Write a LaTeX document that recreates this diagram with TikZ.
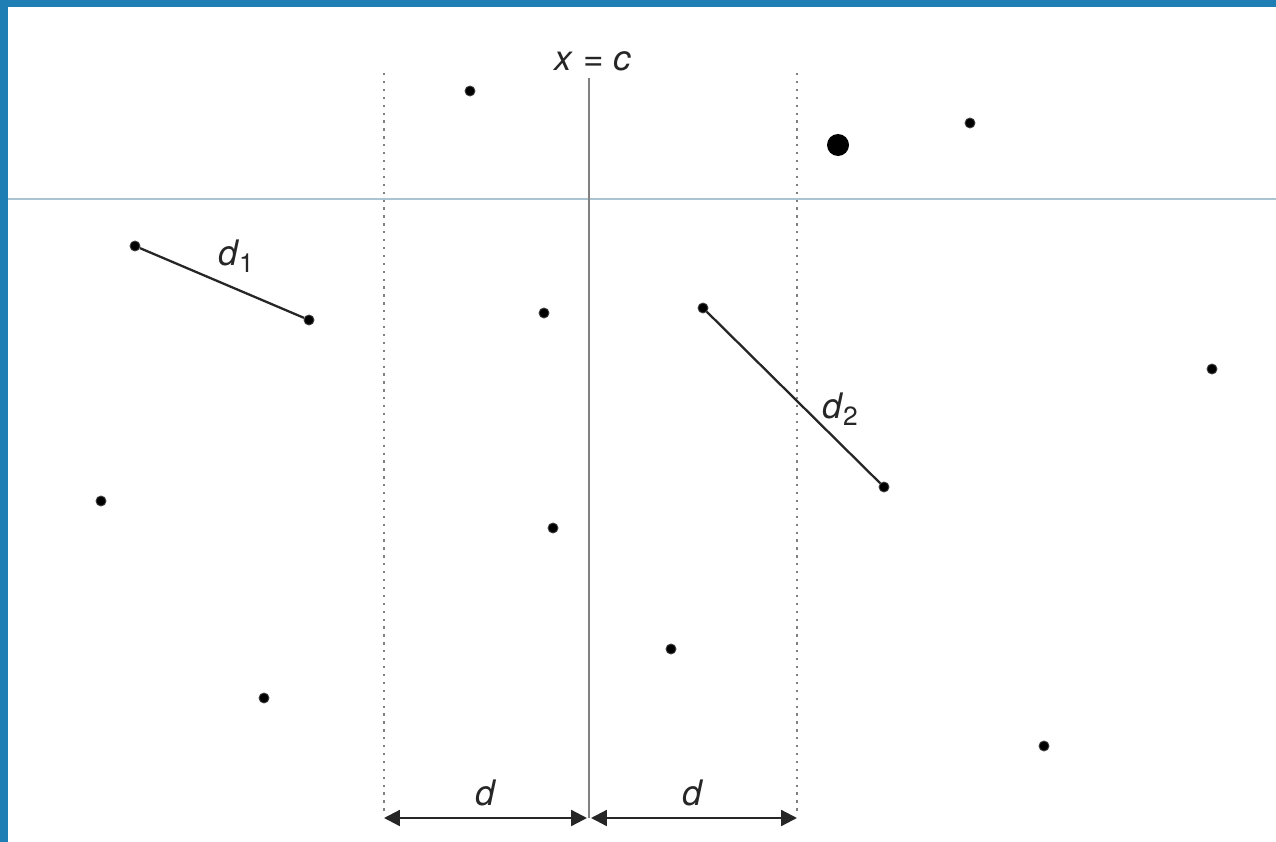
\documentclass[tikz,border=0pt]{standalone}
\usepackage{fontspec}
\setmainfont{TeX Gyre Heros}
\usetikzlibrary{arrows.meta}
\definecolor{frameblue}{RGB}{31,127,181}
\definecolor{rulecol}{RGB}{170,196,210}
\tikzset{
  pt/.style={circle, fill=black, draw=black!75, line width=0.5pt, inner sep=0pt, minimum size=10*0.02cm},
  bigpt/.style={circle, fill=black, inner sep=0pt, minimum size=22*0.02cm},
  seg/.style={line width=1.3pt, black!85},
  dotline/.style={line width=1.6pt, black!50, dash pattern=on 1.3pt off 3.2pt},
  midline/.style={line width=1.7pt, black!50},
  dim/.style={line width=1.3pt, black!85, {Triangle[length=9pt,width=9pt]}-{Triangle[length=9pt,width=9pt]}},
  lab/.style={font=\fontsize{20}{24}\selectfont, inner sep=1pt, text=black!85}
}
\begin{document}
\begin{tikzpicture}[x=0.02cm, y=-0.02cm]
\useasboundingbox (0,0) rectangle (1276,842);
\fill[white] (0,0) rectangle (1276,842);
% frame
\fill[frameblue] (0,0) rectangle (1276,7);
\fill[frameblue] (0,0) rectangle (8,842);
\draw[rulecol, line width=0.6pt] (8,199) -- (1276,199);
% lines
\coordinate (lt) at (384,73);
\coordinate (lb) at (384,815);
\coordinate (rt) at (797,73);
\coordinate (rb) at (797,815);
\coordinate (mt) at (589,78);
\coordinate (mb) at (589,818);
\draw[dotline] (lt) -- (lb);
\draw[dotline] (rt) -- (rb);
\draw[midline] (mt) -- (mb);
\node[lab] (xc) at (593,61) {\textit{x} = \textit{c}};
% points
\node[pt] (a) at (470,91) {};
\node[pt] (b) at (970,123) {};
\node[bigpt] (big) at (838,145) {};
\node[pt] (c) at (544,313) {};
\node[pt] (e) at (1212,369) {};
\node[pt] (f) at (101,501) {};
\node[pt] (g) at (553,528) {};
\node[pt] (h) at (671,649) {};
\node[pt] (i) at (264,698) {};
\node[pt] (j) at (1044,746) {};
\node[pt] (p1) at (135,246) {};
\node[pt] (p2) at (309,320) {};
\node[pt] (q1) at (703,308) {};
\node[pt] (q2) at (884,487) {};
\draw[seg] (p1) -- (p2);
\draw[seg] (q1) -- (q2);
\node[lab] (d1) at (236,256) {\textit{d}\raisebox{-0.35ex}{\fontsize{15}{18}\selectfont 1}};
\node[lab] (d2) at (840,409) {\textit{d}\raisebox{-0.35ex}{\fontsize{15}{18}\selectfont 2}};
% dimension arrows
\coordinate (al) at (384,818);
\coordinate (am1) at (587,818);
\coordinate (am2) at (591,818);
\coordinate (ar) at (797,818);
\draw[dim] (al) -- (am1);
\draw[dim] (am2) -- (ar);
\node[lab] (dl) at (486,793) {\textit{d}};
\node[lab] (dr) at (693,793) {\textit{d}};
\end{tikzpicture}
\end{document}
